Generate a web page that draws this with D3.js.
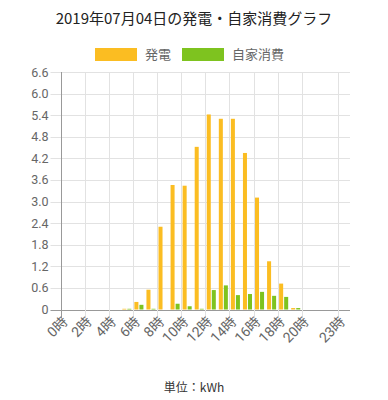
<!DOCTYPE html>
<html>
<head>
<meta charset="utf-8">
<script src="https://cdn.jsdelivr.net/npm/d3@7/dist/d3.min.js"></script>
<style>
  body { margin: 0; background: #fff; }
  svg { display: block; font-family: Roboto, "Noto Sans CJK JP", sans-serif; }
</style>
</head>
<body>
<svg width="388" height="400"></svg>
<script>
// data
let hours = d3.range(24).map(h => h + '時');
let shownHours = ['0時', '2時', '4時', '6時', '8時', '10時', '12時', '14時', '16時', '18時', '20時', '23時'];
let generation = [0, 0, 0, 0, 0, 0.02, 0.21, 0.55, 2.30, 3.46, 3.44, 4.52, 5.42, 5.30, 5.30, 4.35, 3.11, 1.34, 0.72, 0.04, 0, 0, 0, 0];
let selfUse = [0, 0, 0, 0, 0, 0.02, 0.13, 0.02, 0, 0.16, 0.09, 0.02, 0.54, 0.67, 0.40, 0.43, 0.49, 0.38, 0.35, 0.04, 0, 0, 0, 0];
let yTicks = [0, 0.6, 1.2, 1.8, 2.4, 3.0, 3.6, 4.2, 4.8, 5.4, 6.0, 6.6];
let seriesNames = ['発電', '自家消費'];
let colors = ['#fbbd22', '#7ec31f'];

let svg = d3.select('svg');
let plotLeft = 60.5, plotRight = 350, plotTop = 72, plotBottom = 309.5;

let x = d3.scaleBand().domain(hours).range([plotLeft, plotRight]);
let inner = d3.scaleBand().domain([0, 1]).range([0, x.bandwidth()]).paddingInner(0.2).paddingOuter(0.3);
let y = d3.scaleLinear().domain([0, 6.6]).range([plotBottom, plotTop]);

// title
svg.append('text')
  .attr('x', 194).attr('y', 24)
  .attr('text-anchor', 'middle')
  .attr('font-size', 15)
  .attr('font-family', '"Noto Sans CJK JP", sans-serif')
  .attr('fill', '#222')
  .text('2019年07月04日の発電・自家消費グラフ');

// legend
let legendX = [95, 182];
seriesNames.forEach(function (name, i) {
  svg.append('rect')
    .attr('x', legendX[i]).attr('y', 48)
    .attr('width', 42).attr('height', 13)
    .attr('fill', colors[i]);
  svg.append('text')
    .attr('x', legendX[i] + 50).attr('y', 59)
    .attr('font-size', 13)
    .attr('font-family', '"Noto Sans CJK JP", sans-serif')
    .attr('fill', '#666')
    .text(name);
});

// horizontal grid
svg.append('g')
  .selectAll('line')
  .data(yTicks)
  .join('line')
  .attr('x1', plotLeft - 10).attr('x2', plotRight)
  .attr('y1', d => Math.round(y(d)) + 0.5).attr('y2', d => Math.round(y(d)) + 0.5)
  .attr('stroke', d => d === 0 ? '#999' : '#e2e2e2');

// vertical grid
svg.append('g')
  .selectAll('line')
  .data(shownHours)
  .join('line')
  .attr('x1', d => Math.round(x(d)) + 0.5).attr('x2', d => Math.round(x(d)) + 0.5)
  .attr('y1', plotTop).attr('y2', plotBottom + 9)
  .attr('stroke', d => d === '0時' ? '#999' : '#e2e2e2');

// y labels
svg.append('g')
  .selectAll('text')
  .data(yTicks)
  .join('text')
  .attr('x', plotLeft - 12)
  .attr('y', d => y(d) + 4.5)
  .attr('text-anchor', 'end')
  .attr('font-size', 12.5)
  .attr('fill', '#666')
  .text(d => d === 0 ? '0' : d.toFixed(1));

// bars
let series = [generation, selfUse];
series.forEach(function (vals, s) {
  svg.append('g')
    .selectAll('rect')
    .data(vals)
    .join('rect')
    .attr('x', (d, i) => x(hours[i]) + inner(s))
    .attr('width', inner.bandwidth())
    .attr('y', d => y(d))
    .attr('height', d => plotBottom - y(d))
    .attr('fill', colors[s]);
});

// x labels
svg.append('g')
  .selectAll('text')
  .data(shownHours)
  .join('text')
  .attr('transform', d => 'translate(' + (x(d) + x.bandwidth() / 2 + 2) + ',' + (plotBottom + 13) + ') rotate(-45)')
  .attr('text-anchor', 'end')
  .attr('font-size', 14)
  .attr('fill', '#666')
  .text(d => d);

// unit
svg.append('text')
  .attr('x', 194).attr('y', 392)
  .attr('text-anchor', 'middle')
  .attr('font-size', 12)
  .attr('font-family', '"Noto Sans CJK JP", sans-serif')
  .attr('fill', '#333')
  .text('単位：kWh');
</script>
</body>
</html>
